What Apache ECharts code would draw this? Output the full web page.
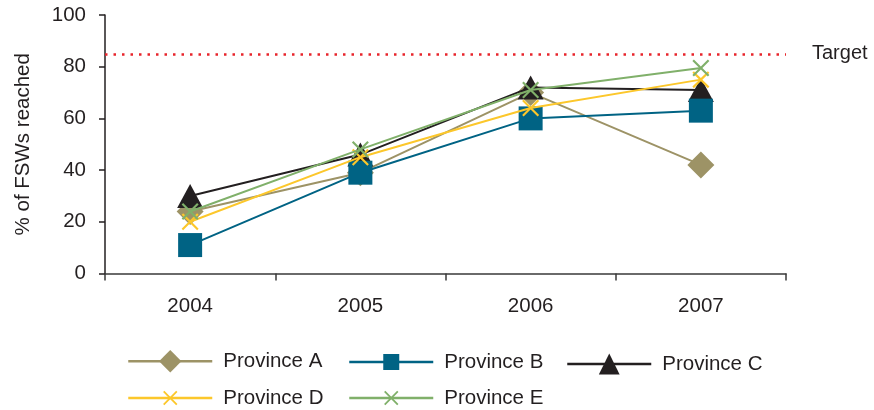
<!DOCTYPE html>
<html><head><meta charset="utf-8">
<script src="https://cdn.jsdelivr.net/npm/echarts@6/dist/echarts.min.js"></script>
<style>html,body{margin:0;padding:0;background:#fff}#c{width:874px;height:410px}</style>
</head><body><div id="c"></div>
<script>
const years = ['2004', '2005', '2006', '2007'];
const seriesNames = ['Province A', 'Province B', 'Province C', 'Province D', 'Province E'];
const provinceA = [24, 39, 70, 42];
const provinceB = [11, 39, 60, 63];
const provinceC = [30, 46, 72, 71];
const provinceD = [20, 45, 64, 75];
const provinceE = [24, 48, 71, 79.5];
const targetValue = 85;
const targetLabel = 'Target';
const yAxisTitle = '% of FSWs reached';
const yMin = 0, yMax = 100, yStep = 20;

const FONT = "'Liberation Sans', Arial, Helvetica, sans-serif";
const TXT = '#231f20';
const XPATH = 'path://M0,9 L9,0 L50,41 L91,0 L100,9 L59,50 L100,91 L91,100 L50,59 L9,100 L0,91 L41,50 Z';

const styles = {
  'Province A': { color: '#9d9366', symbol: 'diamond', size: 27, legendLeft: 127, legendCy: 364, legendH: 28 },
  'Province B': { color: '#006384', symbol: 'rect', size: 24, legendLeft: 348, legendCy: 362, legendH: 20 },
  'Province C': { color: '#231f20', symbol: 'triangle', size: [26, 24], legendLeft: 566, legendCy: 366.5, legendH: 26 },
  'Province D': { color: '#fcc72b', symbol: XPATH, size: 17, legendLeft: 127, legendCy: 398, legendH: 18 },
  'Province E': { color: '#80b06a', symbol: XPATH, size: 17, legendLeft: 348, legendCy: 398, legendH: 18 }
};
const values = { 'Province A': provinceA, 'Province B': provinceB, 'Province C': provinceC, 'Province D': provinceD, 'Province E': provinceE };
const drawOrder = ['Province A', 'Province C', 'Province B', 'Province D', 'Province E'];

const series = drawOrder.map(function (name, i) {
  const s = styles[name];
  const o = {
    name: name, type: 'line', data: values[name],
    symbol: s.symbol, symbolSize: s.size, z: 2 + i,
    itemStyle: { color: s.color, opacity: 1 },
    lineStyle: { color: s.color, width: 2 },
    emphasis: { disabled: true }
  };
  if (name === 'Province A') {
    o.markLine = {
      silent: true, symbol: ['none', 'none'], animation: false,
      lineStyle: { color: '#e8242b', type: [2.5, 6], width: 2.5, cap: 'butt' },
      label: { show: true, position: 'end', formatter: targetLabel, distance: 26, color: TXT, fontSize: 20, fontFamily: FONT },
      data: [{ yAxis: targetValue }]
    };
  }
  return o;
});

const legends = seriesNames.map(function (name) {
  const s = styles[name];
  const h = Math.max(s.legendH, 21);
  return {
    data: [name], left: s.legendLeft, top: s.legendCy - h / 2, padding: 0,
    itemWidth: 84, itemHeight: s.legendH, selectedMode: false,
    lineStyle: { width: 2.5 },
    textStyle: { color: TXT, fontSize: 20.5, fontFamily: FONT, padding: [0, 0, 0, 6] }
  };
});

const chart = echarts.init(document.getElementById('c'), null, { renderer: 'canvas' });
chart.setOption({
  animation: false,
  backgroundColor: '#fff',
  textStyle: { fontFamily: FONT },
  grid: { left: 105, right: 88, top: 15, bottom: 136.5, containLabel: false },
  legend: legends,
  xAxis: {
    type: 'category', data: years, boundaryGap: true,
    axisLine: { show: true, lineStyle: { color: '#3a3a3a', width: 1.5 } },
    axisTick: { show: true, length: 7, lineStyle: { color: '#3a3a3a', width: 1.5 } },
    axisLabel: { color: TXT, fontSize: 20.5, fontFamily: FONT, margin: 22 },
    splitLine: { show: false }
  },
  yAxis: {
    type: 'value', min: yMin, max: yMax, interval: yStep,
    name: yAxisTitle, nameLocation: 'middle', nameGap: 71, nameRotate: 90,
    nameTextStyle: { color: TXT, fontSize: 20.5, fontFamily: FONT },
    axisLine: { show: true, lineStyle: { color: TXT, width: 1.5 } },
    axisTick: { show: true, length: 6, lineStyle: { color: TXT, width: 1.5 } },
    axisLabel: { color: TXT, fontSize: 20.5, fontFamily: FONT, margin: 19 },
    splitLine: { show: false }
  },
  series: series
});
</script>
</body></html>
